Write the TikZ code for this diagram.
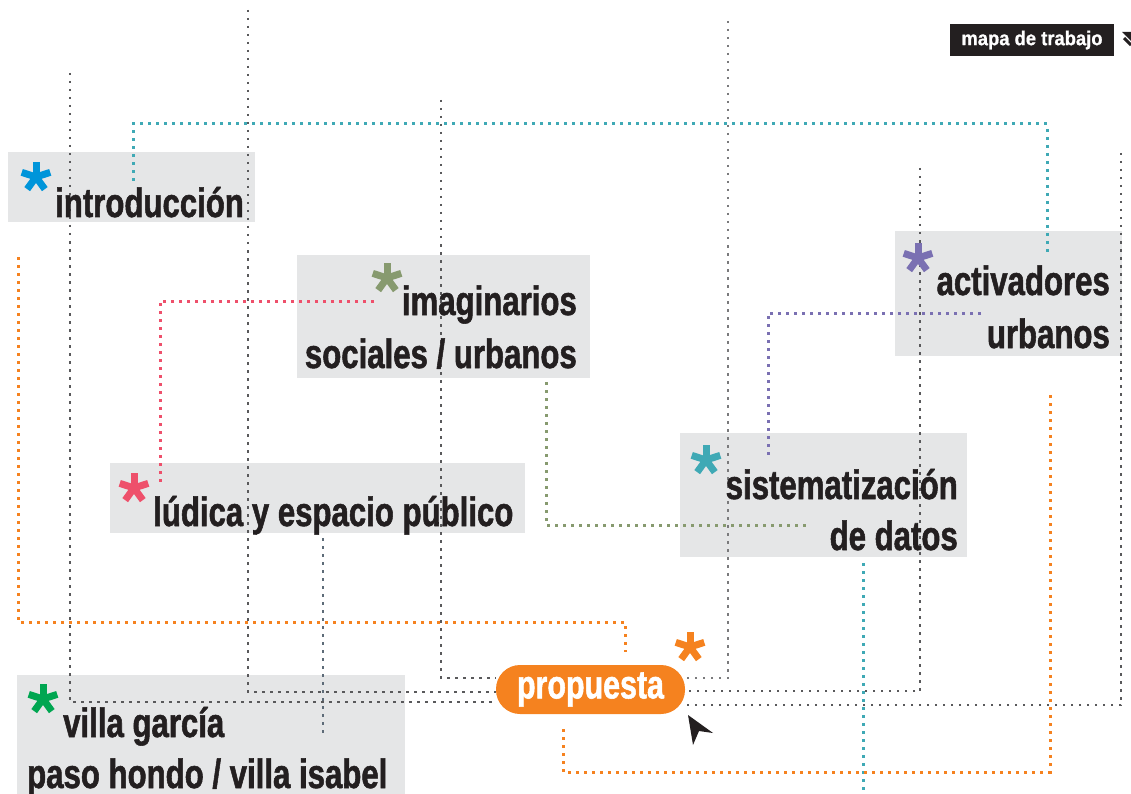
\documentclass[tikz,border=0pt]{standalone}
\usepackage{fontspec}
\setmainfont{Liberation Sans}[FakeStretch=0.76,FakeBold=1.3]
\newfontfamily\tagfont{Liberation Sans}[FakeStretch=0.92,FakeBold=0.8]
\usetikzlibrary{positioning}

\definecolor{ink}{HTML}{231F20}
\definecolor{boxgray}{HTML}{E5E6E7}
\definecolor{lineg}{HTML}{59595B}
\definecolor{linegl}{HTML}{7A7A7C}
\definecolor{slate}{HTML}{5D6B78}
\definecolor{tealc}{HTML}{3FA9B5}
\definecolor{orangec}{HTML}{F5821F}
\definecolor{pinkc}{HTML}{EE506B}
\definecolor{olivec}{HTML}{879A6F}
\definecolor{purplec}{HTML}{7A70B2}
\definecolor{bluec}{HTML}{0095DA}
\definecolor{greenc}{HTML}{00A651}

\pgfdeclarelayer{bg}
\pgfsetlayers{bg,main}

\tikzset{
    box/.style={fill=boxgray, inner sep=0, draw=none},
    lbl/.style={anchor=base west, inner sep=0, text=ink, font=\fontsize{41}{41}\selectfont\bfseries},
    lblr/.style={lbl, anchor=base east},
    gline/.style={draw=#1, line width=2.5pt, dash pattern=on 2.5pt off 5.5pt},
    cline/.style={draw=#1, line width=3pt, dash pattern=on 3pt off 5pt},
    pill/.style={fill=orangec, text=white, rounded corners=24pt, inner sep=0,
        minimum width=189, minimum height=49, font=\fontsize{40}{40}\selectfont\bfseries},
    ast/.pic={
        \foreach \a in {90,18,162,234,306}
            \draw[#1, line width=7pt] (0,0) -- (\a:15pt);
        \fill[#1] (0,0) circle (3.6pt);
    }
}

\begin{document}
\begin{tikzpicture}[x=1pt,y=-1pt]
    \useasboundingbox (0,0) rectangle (1131,794);

    % boxes
    \begin{pgfonlayer}{bg}
        \node[box, minimum width=247, minimum height=70] (introbox) at (131.5,187) {};
        \node[box, minimum width=293, minimum height=123] (imagbox) at (443.5,316.5) {};
        \node[box, minimum width=415, minimum height=70] (ludicabox) at (317.5,498) {};
        \node[box, minimum width=227, minimum height=125] (activbox) at (1008.5,293.5) {};
        \node[box, minimum width=287, minimum height=124] (sistbox) at (823.5,495) {};
        \node[box, minimum width=388, minimum height=119] (villabox) at (211,734.5) {};
    \end{pgfonlayer}

    \node[pill] (prop) at (590.5,689.5) {propuesta};
    \node[fill=ink, text=white, inner sep=0, minimum width=164, minimum height=32,
        font=\fontsize{20}{20}\selectfont\tagfont\bfseries] (tag) at (1032,40) {mapa de trabajo};

    % gray threads into propuesta
    \coordinate (g1) at (70,73);
    \coordinate (g2) at (248,10);
    \coordinate (g3) at (441,100);
    \coordinate (g4) at (728,21);
    \coordinate (g5) at (920,168);
    \coordinate (g6) at (1121,153);
    \draw[gline=lineg] (g1) |- ([yshift=-12.5pt]prop.west);
    \draw[gline=lineg] (g2) |- ([yshift=-2.5pt]prop.west);
    \draw[gline=lineg] (g3) |- ([yshift=11.5pt]prop.west);
    \draw[gline=linegl] (g4) |- ([yshift=11.5pt]prop.east);
    \draw[gline=lineg] (g5) |- ([yshift=-1.5pt]prop.east);
    \draw[gline=lineg] (g6) |- ([yshift=-15.5pt]prop.east);

    \coordinate (s1) at (323,538);
    \coordinate (s2) at (323,735);
    \draw[gline=slate] (s1) -- (s2);

    % colored threads
    \coordinate (t1) at (133,181);
    \coordinate (t2) at (1047,124);
    \coordinate (t3) at (1047,252);
    \draw[cline=tealc] (t1) |- (t2) -- (t3);

    \coordinate (o1) at (18,257);
    \coordinate (o2) at (625,622);
    \coordinate (o3) at (625,652);
    \draw[cline=orangec] (o1) |- (o2) -- (o3);

    \coordinate (p1) at (374,301);
    \coordinate (p2) at (160,483);
    \draw[cline=pinkc] (p1) -| (p2);

    \coordinate (v1) at (546,382);
    \coordinate (v2) at (808,525);
    \draw[cline=olivec] (v1) |- (v2);

    \coordinate (u1) at (981,313);
    \coordinate (u2) at (768,457);
    \draw[cline=purplec] (u1) -| (u2);

    \coordinate (t4) at (863,563);
    \coordinate (t5) at (863,794);
    \draw[cline=tealc] (t4) -- (t5);

    \coordinate (o4) at (563,729);
    \coordinate (o5) at (1050,772);
    \coordinate (o6) at (1050,395);
    \draw[cline=orangec] (o4) |- (o5) -- (o6);

    % labels
    \node[lbl] (intro) at (55,217) {introducción};
    \node[lblr] (imag1) at (577,315) {imaginarios};
    \node[lblr] (imag2) at (577,368) {sociales / urbanos};
    \node[lbl] (ludica) at (153,526) {lúdica y espacio público};
    \node[lblr] (activ1) at (1110,295) {activadores};
    \node[lblr] (activ2) at (1110,348) {urbanos};
    \node[lblr] (sist1) at (958,499) {sistematización};
    \node[lblr] (sist2) at (958,550) {de datos};
    \node[lbl] (villa1) at (63,737) {villa garcía};
    \node[lbl] (villa2) at (27,788) {paso hondo / villa isabel};

    % asterisks
    \pic at (36,177) {ast=bluec};
    \pic at (387,278) {ast=olivec};
    \pic at (134,488) {ast=pinkc};
    \pic at (918,258) {ast=purplec};
    \pic at (706,460) {ast=tealc};
    \pic at (43,699) {ast=greenc};
    \pic at (690,647) {ast=orangec};

    % pointer and tag arrow
    \fill[ink] (688,715) -- (713,733) -- (699,731) -- (693,745) -- cycle;
    \fill[ink] (1122,32) -- (1131,32) -- (1131,41) -- cycle;
    \draw[ink, line width=3pt] (1124,38) -- (1131,45);
\end{tikzpicture}
\end{document}
